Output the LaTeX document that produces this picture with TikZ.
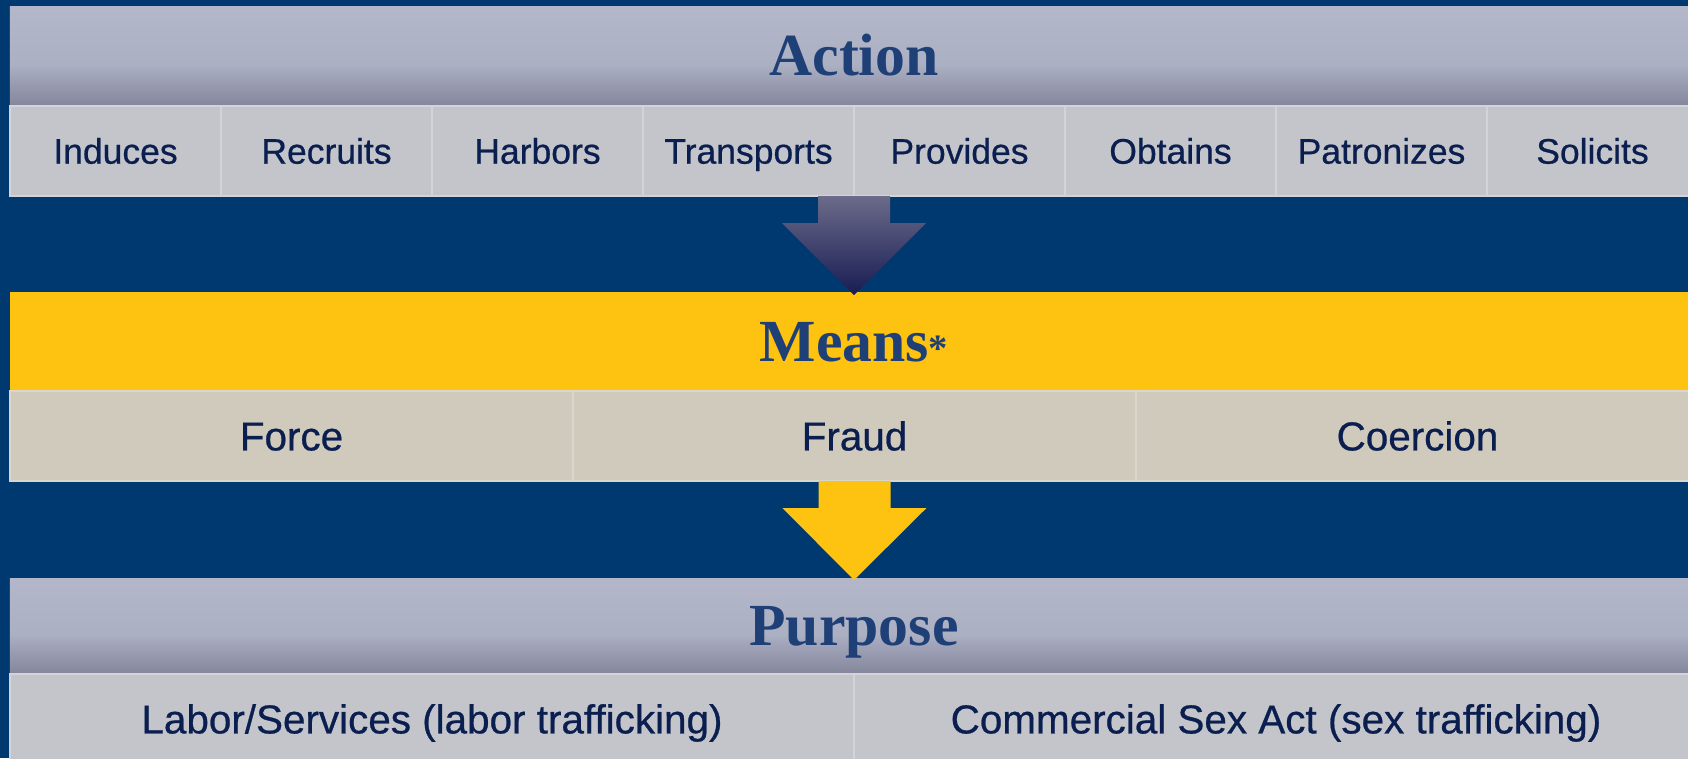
\documentclass[tikz,border=0pt]{standalone}
\usepackage{fontspec}
\setmainfont{Liberation Sans}
\newfontfamily\cellfont{Liberation Sans}[FakeBold=0.6]
\newfontfamily\titlefont{Liberation Serif}
\usetikzlibrary{calc}

\definecolor{navy}{HTML}{003970}
\definecolor{hdrtop}{HTML}{B3B7C9}
\definecolor{hdrmid}{HTML}{ACB0C3}
\definecolor{hdrbot}{HTML}{84869B}
\definecolor{cellgray}{HTML}{C4C5CA}
\definecolor{celledge}{HTML}{D3D4D9}
\definecolor{cellbeige}{HTML}{D0CABD}
\definecolor{beigeedge}{HTML}{DBD6CB}
\definecolor{gold}{HTML}{FEC210}
\definecolor{titleblue}{HTML}{1F4077}
\definecolor{textnavy}{HTML}{0A1F4F}
\definecolor{arrtop}{HTML}{6B6B8A}
\definecolor{arrbot}{HTML}{181C52}

\pgfdeclareverticalshading{hdrshade}{100bp}{color(0bp)=(hdrbot); color(25bp)=(hdrbot); color(46bp)=(hdrmid); color(75bp)=(hdrtop); color(100bp)=(hdrtop)}

\begin{document}
\begin{tikzpicture}[x=1cm,y=-1cm]
  \tikzstyle{bar}=[rectangle,minimum width=16.88cm,inner sep=0pt,outer sep=0pt,text=titleblue,font=\titlefont\bfseries\fontsize{17}{20}\selectfont,text height=11.2pt,text depth=0pt]
  \tikzstyle{header}=[bar,shading=hdrshade]
  \tikzstyle{cell}=[rectangle,fill=cellgray,draw=celledge,line width=0.6pt,minimum height=0.9cm,inner sep=0pt,outer sep=0pt,text=textnavy]
  \tikzstyle{actcell}=[cell,minimum width=2.11cm,font=\cellfont\fontsize{10.1}{12}\selectfont,text height=7.2pt,text depth=0pt]
  \tikzstyle{meanscell}=[cell,fill=cellbeige,draw=beigeedge,minimum width=5.63cm,font=\cellfont\fontsize{11.5}{14}\selectfont,text height=8.2pt,text depth=0pt]
  \tikzstyle{purpcell}=[cell,minimum width=8.44cm,font=\cellfont\fontsize{11.5}{14}\selectfont,text height=8.2pt,text depth=0pt]
  \clip (0,0) rectangle (16.88,7.58);
  \fill[navy] (0,0) rectangle (16.88,7.58);
  % action row
  \node[header,minimum height=1cm] (action) at (8.54,0.56) {Action};
  \node[actcell] (induces) at (1.155,1.51) {Induces};
  \node[actcell] (recruits) at (3.265,1.51) {Recruits};
  \node[actcell] (harbors) at (5.375,1.51) {Harbors};
  \node[actcell] (transports) at (7.485,1.51) {Transports};
  \node[actcell] (provides) at (9.595,1.51) {Provides};
  \node[actcell] (obtains) at (11.705,1.51) {Obtains};
  \node[actcell] (patronizes) at (13.815,1.51) {Patronizes};
  \node[actcell] (solicits) at (15.925,1.51) {Solicits};
  % means row
  \node[bar,fill=gold,minimum height=0.99cm] (means) at (8.54,3.415) {Means{\fontsize{11}{13}\selectfont*}};
  \node[meanscell] (force) at (2.915,4.36) {Force};
  \node[meanscell] (fraud) at (8.545,4.36) {Fraud};
  \node[meanscell] (coercion) at (14.175,4.36) {Coercion};
  % purpose row
  \node[header,minimum height=0.96cm] (purpose) at (8.54,6.26) {Purpose};
  \node[purpcell] (labor) at (4.32,7.19) {Labor/Services (labor trafficking)};
  \node[purpcell] (sex) at (12.76,7.19) {Commercial Sex Act (sex trafficking)};
  % block arrows between the rows
  \shade[top color=arrtop,bottom color=arrbot] ($(transports.south east)+(-0.36,0)$) -- ++(0.72,0) -- ++(0,0.27) -- ++(0.36,0)
    -- ($(means.north)+(0,0.03)$) -- ($(transports.south east)+(-0.72,0.27)$) -- ++(0.36,0) -- cycle;
  \fill[gold] ($(fraud.south)+(-0.36,0)$) -- ++(0.72,0) -- ++(0,0.27) -- ++(0.36,0)
    -- ($(purpose.north)+(0,0.02)$) -- ($(fraud.south)+(-0.72,0.27)$) -- ++(0.36,0) -- cycle;
\end{tikzpicture}
\end{document}
